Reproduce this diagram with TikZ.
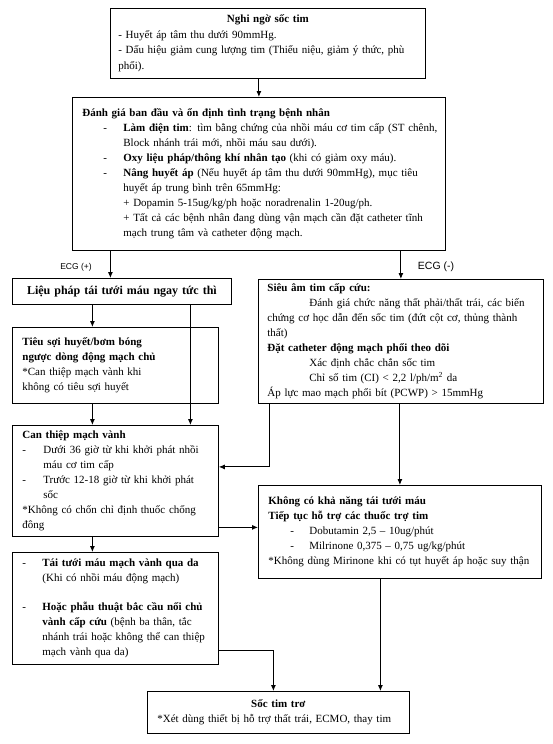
\documentclass[tikz,border=0pt]{standalone}
\usepackage{fontspec}
\setmainfont{Liberation Serif}
\newfontfamily\ecgfont{Liberation Sans}
\usetikzlibrary{arrows.meta}
\newcommand{\dashitem}[1][20pt]{\makebox[#1][l]{-}}
\begin{document}
\begin{tikzpicture}[x=1pt,y=-1pt,
  box/.style={draw,line width=0.8pt,anchor=north west,align=left,inner xsep=10pt,inner ysep=0pt,
    font=\fontsize{11}{15}\selectfont},
  arr/.style={-{Latex[length=6pt,width=5pt]},line width=0.9pt}]
\useasboundingbox (0,0) rectangle (553,744);

\node[box,inner xsep=8pt,text width=299pt,minimum height=70pt,font=\fontsize{11}{15.5}\selectfont] (suspect) at (110,8)
  {\makebox[\hsize]{\textbf{Nghi ngờ sốc tim}}\\
   - Huyết áp tâm thu dưới 90mmHg.\\
   - Dấu hiệu giảm cung lượng tim (Thiểu niệu, giảm ý thức, phù\\
   phổi).};

\node[box,text width=353pt,minimum height=153pt] (assess) at (72,97)
  {\textbf{Đánh giá ban đầu và ổn định tình trạng bệnh nhân}\\
   \hspace*{21pt}\dashitem\mbox{\textbf{Làm điện tim}: tìm bằng chứng của nhồi máu cơ tim cấp (ST chênh,}\\
   \hspace*{41pt}Block nhánh trái mới, nhồi máu sau dưới).\\
   \hspace*{21pt}\dashitem\textbf{Oxy liệu pháp/thông khí nhân tạo} (khi có giảm oxy máu).\\
   \hspace*{21pt}\dashitem\textbf{Nâng huyết áp} (Nếu huyết áp tâm thu dưới 90mmHg), mục tiêu\\
   \hspace*{41pt}huyết áp trung bình trên 65mmHg:\\
   \hspace*{41pt}+ Dopamin 5-15ug/kg/ph hoặc noradrenalin 1-20ug/ph.\\
   \hspace*{41pt}\mbox{+ Tất cả các bệnh nhân đang dùng vận mạch cần đặt catheter tĩnh}\\
   \hspace*{41pt}mạch trung tâm và catheter động mạch.};

\node[font=\ecgfont\fontsize{8.5}{10}\selectfont] (ecgpos) at (76,267) {ECG (+)};
\node[font=\ecgfont\fontsize{10.5}{12}\selectfont] (ecgneg) at (436,267) {ECG (-)};

\node[box,text width=199pt,minimum height=26pt,font=\fontsize{12}{15}\selectfont] (revasc) at (12,278)
  {\makebox[\hsize]{\textbf{Liệu pháp tái tưới máu ngay tức thì}}};

\node[box,text width=186pt,minimum height=76pt] (lysis) at (12,327)
  {\textbf{Tiêu sợi huyết/bơm bóng}\\
   \textbf{ngược dòng động mạch chủ}\\
   {*}Can thiệp mạch vành khi\\
   không có tiêu sợi huyết};

\node[box,text width=186pt,minimum height=111pt] (pci) at (12,425)
  {\textbf{Can thiệp mạch vành}\\
   \dashitem[21pt]Dưới 36 giờ từ khi khởi phát nhồi\\
   \hspace*{21pt}máu cơ tim cấp\\
   \dashitem[21pt]Trước 12-18 giờ từ khi khởi phát\\
   \hspace*{21pt}sốc\\
   {*}Không có chốn chỉ định thuốc chống\\
   đông};

\node[box,text width=186pt,minimum height=112pt] (pcabg) at (12,552)
  {\dashitem\textbf{Tái tưới máu mạch vành qua da}\\
   \hspace*{20pt}(Khi có nhồi máu động mạch)\\[14pt]
   \dashitem\textbf{Hoặc phẫu thuật bắc cầu nối chủ}\\
   \hspace*{20pt}\textbf{vành cấp cứu} (bệnh ba thân, tắc\\
   \hspace*{20pt}nhánh trái hoặc không thể can thiệp\\
   \hspace*{20pt}mạch vành qua da)};

\node[box,inner xsep=9pt,text width=267pt,minimum height=124pt] (echo) at (258,279)
  {\textbf{Siêu âm tim cấp cứu:}\\
   \hspace*{42pt}Đánh giá chức năng thất phải/thất trái, các biến\\
   chứng cơ học dẫn đến sốc tim (đứt cột cơ, thủng thành\\
   thất)\\
   \textbf{Đặt catheter động mạch phổi theo dõi}\\
   \hspace*{42pt}Xác định chắc chắn sốc tim\\
   \hspace*{42pt}Chỉ số tim (CI) < 2,2 l/ph/m\textsuperscript{2} da\\
   Áp lực mao mạch phổi bít (PCWP) > 15mmHg};

\node[box,text width=263pt,minimum height=93pt] (nocan) at (258,485)
  {\textbf{Không có khả năng tái tưới máu}\\
   \textbf{Tiếp tục hỗ trợ các thuốc trợ tim}\\
   \hspace*{22pt}\dashitem[19pt]Dobutamin 2,5 – 10ug/phút\\
   \hspace*{22pt}\dashitem[19pt]Milrinone 0,375 – 0,75 ug/kg/phút\\
   {*}Không dùng Mirinone khi có tụt huyết áp hoặc suy thận};

\node[box,text width=242pt,minimum height=42pt] (refract) at (147,691)
  {\makebox[\hsize]{\textbf{Sốc tim trơ}}\\
   {*}Xét dùng thiết bị hỗ trợ thất trái, ECMO, thay tim};

\draw[arr] (suspect.south -| assess.north) -- (assess.north);
\draw[arr] ([xshift=-11.5pt]revasc.north |- assess.south) -- ([xshift=-11.5pt]revasc.north);
\draw[arr] (echo.north |- assess.south) -- (echo.north);
\draw[arr] ([xshift=-23pt]lysis.north |- revasc.south) -- ([xshift=-23pt]lysis.north);
\draw[arr] ([xshift=75pt]pci.north |- revasc.south) -- ([xshift=75pt]pci.north);
\draw[arr] ([xshift=-23pt]lysis.south) -- ([xshift=-23pt]pci.north);
\draw[arr] ([xshift=11pt]echo.south west) |- ([yshift=14pt]pci.east);
\draw[arr] ([yshift=-46.5pt]pci.east) -- ([yshift=4.5pt]nocan.west);
\draw[arr] (nocan.north |- echo.south) -- (nocan.north);
\draw[arr] ([xshift=-23pt]pci.south) -- ([xshift=-23pt]pcabg.north);
\draw[arr] ([yshift=-42pt]pcabg.east) -| ([xshift=-5pt]refract.north);
\draw[arr] ([xshift=102pt]refract.north |- nocan.south) -- ([xshift=102pt]refract.north);
\end{tikzpicture}
\end{document}
